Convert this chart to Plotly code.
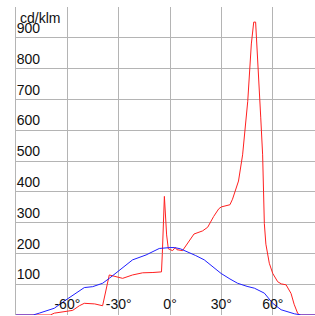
import plotly.graph_objects as go

# Red curve (C0-C180 plane), angle in degrees vs cd/klm
red_angle = [-90, -70, -67.6, -62, -56.9, -53, -50.1, -44, -41.3, -39.4, -35.5, -32.6, -27.7,
             -21.9, -16, -10, -6.3, -5, -4.5, -3.3, -2, -1, 0.2, 1.5, 3, 4, 7.3, 11, 14, 19,
             22, 25.5, 28.5, 30, 35, 36.5, 38.5, 40, 42.4, 45.4, 47.5, 48.9, 50.0, 51.6, 53,
             54.1, 55.1, 56, 58, 60, 62.9, 65, 67.8, 70.7, 72.5, 74.6, 76, 85]
red_value = [0, 0, 6, 10, 15, 30, 38, 36, 33, 30, 130, 125, 119,
             130, 137, 138, 138, 140, 200, 385, 260, 215, 212, 209, 219, 212, 209, 241, 263, 273,
             285, 320, 345, 351, 358, 376, 414, 435, 520, 694, 880, 951, 951, 802, 640,
             520, 297, 230, 168, 135, 108, 101, 98, 70, 35, 5, 0, 0]

# Blue curve (C90-C270 plane)
blue_angle = [-90, -80, -76.4, -67.6, -60.8, -54.9, -50.1, -45.2, -39.4, -35.5, -29.6, -21.9,
              -14, -6.3, 0, 2.5, 6, 10.3, 15, 20, 25, 29.8, 35, 39.5, 45, 49.3, 55.1, 60,
              64.9, 70, 72.6, 76.6, 85]
blue_value = [0, 0, 6, 22, 49, 71, 89, 92, 103, 119, 146, 179,
              195, 216, 219, 219, 215, 205, 193, 179, 158, 135, 117, 103, 93, 87, 71, 38,
              17, 8, 4, 0, 0]

x_tickvals = [-60, -30, 0, 30, 60]
x_ticktext = ["-60°", "-30°", "0°", "30°", "60°"]
y_tickvals = [100, 200, 300, 400, 500, 600, 700, 800, 900]
unit_label = "cd/klm"

fig = go.Figure()
fig.add_trace(go.Scatter(x=red_angle, y=red_value, mode="lines",
                         line=dict(color="#ff2020", width=1), showlegend=False))
fig.add_trace(go.Scatter(x=blue_angle, y=blue_value, mode="lines",
                         line=dict(color="#2020ff", width=1), showlegend=False))

font = dict(family="Liberation Sans, Arial, sans-serif", size=14, color="#111111")
grid = "#b4b4b4"

fig.update_layout(
    width=315, height=316,
    margin=dict(l=16, r=0, t=7, b=1, pad=0),
    paper_bgcolor="white", plot_bgcolor="white",
    font=font,
    xaxis=dict(range=[-90, 84.7], tickvals=[-90, -60, -30, 0, 30, 60],
               ticktext=[""] + x_ticktext,
               ticklabelposition="inside", ticks="", showgrid=True,
               gridcolor=grid, gridwidth=1, zeroline=False, showline=False,
               tickfont=font, fixedrange=True, automargin=False),
    yaxis=dict(range=[0, 1000], tickvals=[0] + y_tickvals + [1000],
               ticktext=[""] + [str(v) for v in y_tickvals] + [""],
               ticklabelposition="inside top", ticks="", showgrid=True,
               gridcolor=grid, gridwidth=1, zeroline=False,
               showline=True, linecolor=grid, linewidth=1,
               tickfont=font, fixedrange=True, automargin=False),
    annotations=[dict(text=unit_label, xref="paper", yref="paper", x=0, y=1,
                      xanchor="left", yanchor="top", xshift=2, yshift=-1,
                      showarrow=False, font=font)],
)

fig.write_html("out.html",
               config={"displayModeBar": False, "staticPlot": True},
               post_script="document.body.style.margin='0';document.body.style.overflow='hidden';")
